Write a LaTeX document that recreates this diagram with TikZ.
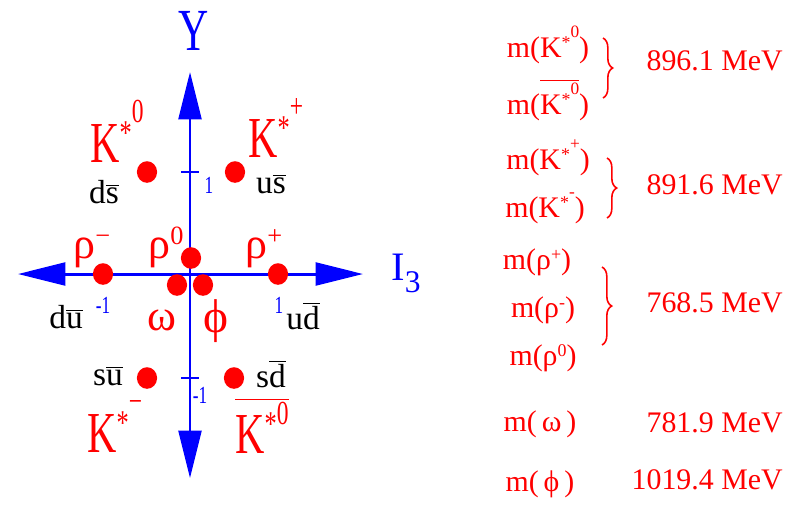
\documentclass[tikz,border=0pt]{standalone}
\usepackage{fontspec}
\setmainfont{Liberation Serif}
\newfontfamily\narrowfont[FakeStretch=0.7]{Liberation Serif}
\usepackage{graphicx}
\usepackage{tikz}
\usetikzlibrary{positioning,arrows.meta,shapes.geometric,decorations.pathreplacing}
\newcommand{\kstar}[2][0.68em]{\raisebox{0.3em}{\scalebox{0.6}{*}}\raisebox{#1}{\scalebox{0.58}{#2}}}
\newcommand{\chg}[1]{\raisebox{0.3em}{\scalebox{0.6}{#1}}}
\newcommand{\qbar}[1]{$\overline{\mbox{#1}}$}

\begin{document}
\begin{tikzpicture}[
  x=0.02cm,y=-0.02cm,
  axis/.style={blue,line width=1.7pt,
    {Triangle[length=27pt,width=13pt]}-{Triangle[length=27pt,width=13pt]}},
  tickmark/.style={blue,line width=1.2pt},
  ticklabel/.style={text=blue,inner sep=0pt,font=\narrowfont\fontsize{14}{14}\selectfont},
  axisname/.style={text=blue,inner sep=0pt},
  meson/.style={ellipse,fill=red,inner sep=0pt,minimum width=11.5pt,minimum height=12.3pt},
  bigname/.style={text=red,inner sep=0pt,font=\narrowfont\fontsize{33}{33}\selectfont},
  greekname/.style={text=red,inner sep=0pt,font=\fontsize{25}{25}\selectfont},
  quark/.style={text=black,inner sep=0pt,font=\fontsize{19}{19}\selectfont},
  mass/.style={text=red,inner sep=0pt,font=\fontsize{17}{17}\selectfont},
  massbrace/.style={red,line width=0.9pt,decorate,decoration={brace,amplitude=5.5pt}}
]
\useasboundingbox (0,0) rectangle (787,505);

% ==================================================
% 軸
% ==================================================
\coordinate (ytop) at (190,72);
\coordinate (ybot) at (190,478);
\coordinate (xleft) at (18,274);
\coordinate (xright) at (363,274);
\draw[axis] (ybot) -- (ytop);
\draw[axis] (xleft) -- (xright);

\node[axisname,anchor=base,font=\narrowfont\fontsize{34}{34}\selectfont]
  (yname) at (194,50) {Y};
\node[axisname,anchor=base west,font=\fontsize{23}{23}\selectfont]
  (iname) at (391,280) {I\raisebox{-0.3em}{\scalebox{0.78}{3}}};

% 目盛り
\coordinate (tup) at (190,172);
\coordinate (tdown) at (190,378);
\draw[tickmark] (tup) ++(-9,0) -- ++(18,0);
\draw[tickmark] (tdown) ++(-9,0) -- ++(18,0);
\node[ticklabel] (lup) at (209,185) {1};
\node[ticklabel] (ldown) at (200,395) {-1};
\node[ticklabel] (lleft) at (103,305) {-1};
\node[ticklabel] (lright) at (279,305) {1};

% ==================================================
% 中間子
% ==================================================
\node[meson] (kz) at (147,172) {};
\node[meson] (kp) at (235,172) {};
\node[meson] (rm) at (103,274) {};
\node[meson] (rp) at (278,274) {};
\node[meson] (rz) at (191,258) {};
\node[meson] (om) at (177,285) {};
\node[meson] (ph) at (203,285) {};
\node[meson] (km) at (147,378) {};
\node[meson] (kzb) at (234,378) {};

% 粒子名
\node[bigname,anchor=base west] (nkz) at (90,162) {K\kstar{0}};
\node[bigname,anchor=base west] (nkp) at (248,157) {K\kstar{+}};
\node[bigname,anchor=base west] (nkm) at (87,452) {K\kstar{−}};
\node[bigname,anchor=base west] (nkzb) at (235,453) {\qbar{K\kstar[0.5em]{0}}};

\node[greekname,anchor=base west] (nrm) at (73,258) {ρ\chg{−}};
\node[greekname,anchor=base west] (nrz) at (148,258) {ρ\chg{0}};
\node[greekname,anchor=base west] (nrp) at (245,258) {ρ\chg{+}};
\node[greekname,anchor=base west] (nom) at (147,330) {ω};
\node[greekname,anchor=base west,font=\fontsize{27}{27}\selectfont] (nph) at (203,332) {ϕ};

% クォーク組成
\node[quark] (qkz) at (104,192) {d\qbar{s}};
\node[quark] (qkp) at (271,184) {u\qbar{s}};
\node[quark] (qrm) at (66,317) {d\qbar{u}};
\node[quark] (qrp) at (303,316) {u\qbar{d}};
\node[quark] (qkm) at (108,376) {s\qbar{u}};
\node[quark] (qkzb) at (271,374) {s\qbar{d}};

% ==================================================
% 質量
% ==================================================
\node[mass] (mkz) at (548,45) {m(K\kstar{0})};
\node[mass] (mkzb) at (548,100) {m(\qbar{K\kstar{0}})};
\node[mass] (mkp) at (548,158) {m(K\kstar{+})};
\node[mass] (mkm) at (545,208) {m(K\kstar{-})};
\node[mass] (mrp) at (537,262) {m(ρ\chg{+})};
\node[mass] (mrm) at (543,310) {m(ρ\chg{-})};
\node[mass] (mrz) at (543,358) {m(ρ\chg{0})};
\node[mass] (mom) at (540,424) {m(\,ω\,)};
\node[mass] (mph) at (540,484) {m(\,ϕ\,)};

\node[mass,anchor=east] (vk) at (783,61) {896.1 MeV};
\node[mass,anchor=east] (vkc) at (783,185) {891.6 MeV};
\node[mass,anchor=east] (vr) at (783,303) {768.5 MeV};
\node[mass,anchor=east] (vom) at (783,423) {781.9 MeV};
\node[mass,anchor=east] (vph) at (783,480) {1019.4 MeV};

% 括弧
\coordinate (bka) at (603,38);
\coordinate (bkb) at (603,98);
\coordinate (bca) at (607,158);
\coordinate (bcb) at (607,218);
\coordinate (bra) at (602,267);
\coordinate (brb) at (602,345);
\draw[massbrace] (bka) -- (bkb);
\draw[massbrace] (bca) -- (bcb);
\draw[massbrace] (bra) -- (brb);

\end{tikzpicture}
\end{document}
